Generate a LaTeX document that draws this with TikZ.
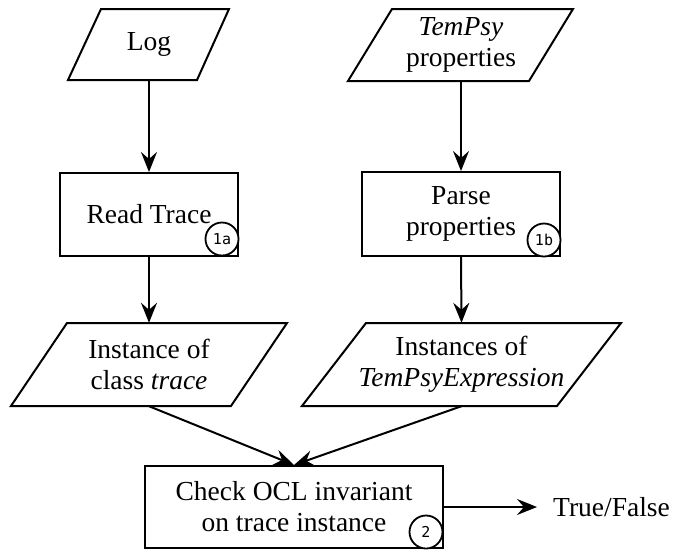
\documentclass[tikz,border=0pt]{standalone}
\usepackage{fontspec}
\setmainfont{Liberation Serif}
\newfontfamily\numfont{DejaVu Sans Mono}
\usetikzlibrary{arrows.meta}
\begin{document}
\begin{tikzpicture}[x=1pt,y=-1pt,
  every node/.style={font=\fontsize{27.5}{31}\selectfont, align=center, inner sep=0pt},
  shapeline/.style={line width=2pt, line join=miter},
  boxnode/.style={draw, line width=2pt, minimum width=#1},
  ionode/.style={minimum width=#1},
  tag/.style={draw, circle, line width=1.8pt, fill=white, minimum size=33pt, inner sep=0pt, font=\numfont\fontsize{15}{15}\selectfont},
  flow/.style={line width=2pt, -{Stealth[length=20pt, width=16pt, inset=7pt]}}
]
\useasboundingbox (0,0) rectangle (689,550);

% Log
\draw[shapeline] (101,9) -- (229,9) -- (197,80) -- (68,80) -- cycle;
\node[ionode=120pt, minimum height=71pt] (log) at (149,44.5) {Log};

% TemPsy properties
\draw[shapeline] (392,9) -- (573,9) -- (529,81) -- (348,81) -- cycle;
\node[ionode=150pt, minimum height=72pt] (tps) at (461,45) {\textit{TemPsy}\\properties};

% Read Trace
\node[boxnode=178pt, minimum height=83pt] (read) at (149,214.5) {Read Trace};
\node[tag] (t1a) at (222,239) {1a};

% Parse properties
\node[boxnode=198pt, minimum height=84pt] (parse) at (461,214) {Parse\\properties};
\node[tag] (t1b) at (544,240) {1b};

% Instance of class trace
\draw[shapeline] (67,323) -- (287,323) -- (231,406) -- (11,406) -- cycle;
\node[ionode=180pt, minimum height=83pt] (inst) at (149,364.5) {Instance of\\class \textit{trace}};

% Instances of TemPsyExpression
\draw[shapeline] (366,323) -- (621,323) -- (557,406) -- (302,406) -- cycle;
\node[ionode=200pt, minimum height=83pt] (insts) at (461.5,364.5) {Instances of\\\textit{TemPsyExpression}};

% Check OCL invariant
\node[boxnode=298pt, minimum height=82pt] (check) at (294,507) {Check OCL invariant\\on trace instance};
\node[tag] (t2) at (426,532) {2};

% Output
\node[anchor=west] (tf) at (553,507) {True/False};

% Connectors
\draw[flow] (log.south) -- (read.north);
\draw[flow] (tps.south) -- (parse.north);
\draw[flow] (read.south) -- (inst.north);
\draw[flow] (parse.south) -- (insts.north);
\draw[flow] (inst.south) -- (check.north);
\draw[flow] (insts.south) -- (check.north);
\draw[flow] (check.east) -- ([xshift=-16pt]tf.west);
\end{tikzpicture}
\end{document}
